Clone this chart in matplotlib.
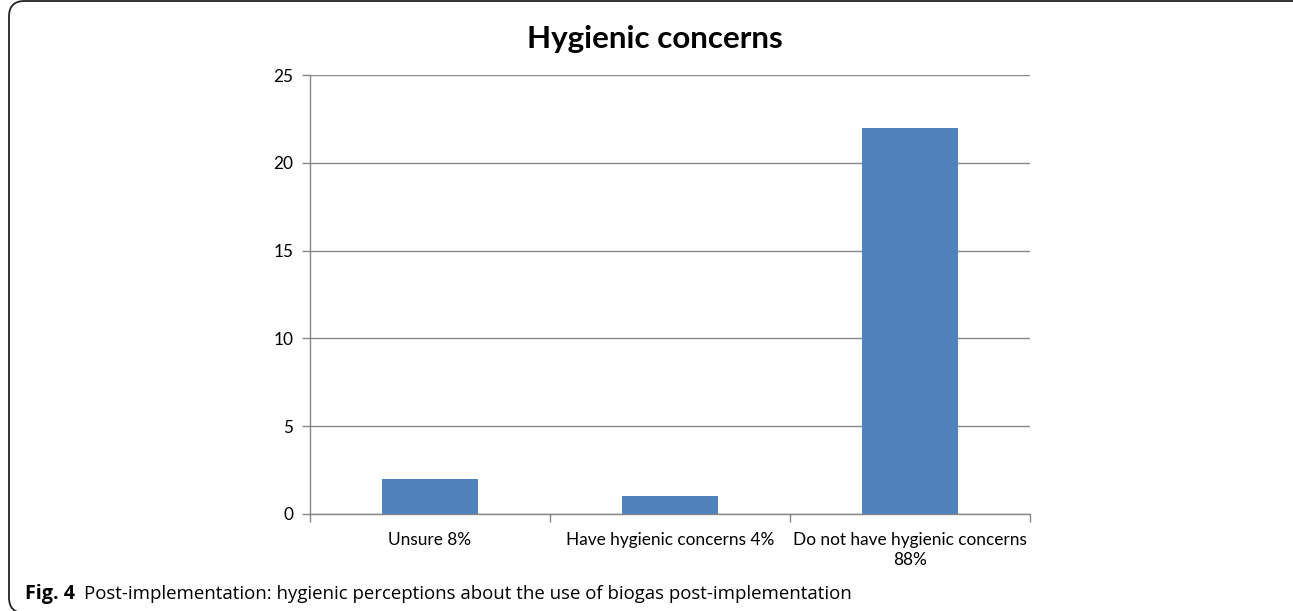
import matplotlib.pyplot as plt
from matplotlib.patches import FancyBboxPatch

categories = ["Unsure 8%", "Have hygienic concerns 4%", "Do not have hygienic concerns\n88%"]
counts = [2, 1, 22]
yticks = [0, 5, 10, 15, 20, 25]

plt.rcParams['font.family'] = ['Lato', 'DejaVu Sans']

W, H = 1293, 611
fig = plt.figure(figsize=(W / 100, H / 100), dpi=100)
ax = fig.add_axes([310 / W, 97 / H, 720 / W, 439 / H])

x = list(range(len(categories)))
ax.bar(x, counts, width=0.4, color='#4F81BD', zorder=3)

ax.set_xlim(-0.5, len(categories) - 0.5)
ax.set_ylim(0, 25)
ax.set_yticks(yticks)
ax.yaxis.grid(True, color='#868686', linewidth=1.0, zorder=0)

# category labels sit between the separator ticks
ax.set_xticks(x)
ax.set_xticklabels(categories, fontsize=12.4, linespacing=1.3)
ax.tick_params(axis='x', length=0, pad=13)
ax.set_xticks([i - 0.5 for i in range(len(categories) + 1)], minor=True)
ax.tick_params(axis='x', which='minor', length=6, color='#868686', width=1)
ax.tick_params(axis='y', labelsize=12.4, length=6, color='#868686', width=1, pad=6)

for side in ['top', 'right']:
    ax.spines[side].set_visible(False)
for side in ['left', 'bottom']:
    ax.spines[side].set_color('#868686')
    ax.spines[side].set_linewidth(1.0)

fig.text(655 / W, 1 - 39 / H, "Hygienic concerns", ha='center', va='center',
         fontsize=22.6, fontweight='bold')

cap_font = ['Open Sans', 'DejaVu Sans']
fig.text(25 / W, 1 - 594 / H, "Fig. 4", ha='left', va='center',
         fontsize=14.2, fontweight='bold', family=cap_font)
fig.text(84 / W, 1 - 594 / H,
         "Post-implementation: hygienic perceptions about the use of biogas post-implementation",
         ha='left', va='center', fontsize=13.4, family=cap_font)

# rounded frame around the panel
frame = FancyBboxPatch((9 / W, -2 / H), 1300 / W, 612 / H,
                       boxstyle="round,pad=0,rounding_size=0.012",
                       transform=fig.transFigure, fill=False,
                       edgecolor='#222222', linewidth=1.3, mutation_aspect=W / H)
fig.patches.append(frame)

fig.savefig('out.png', dpi=100)
